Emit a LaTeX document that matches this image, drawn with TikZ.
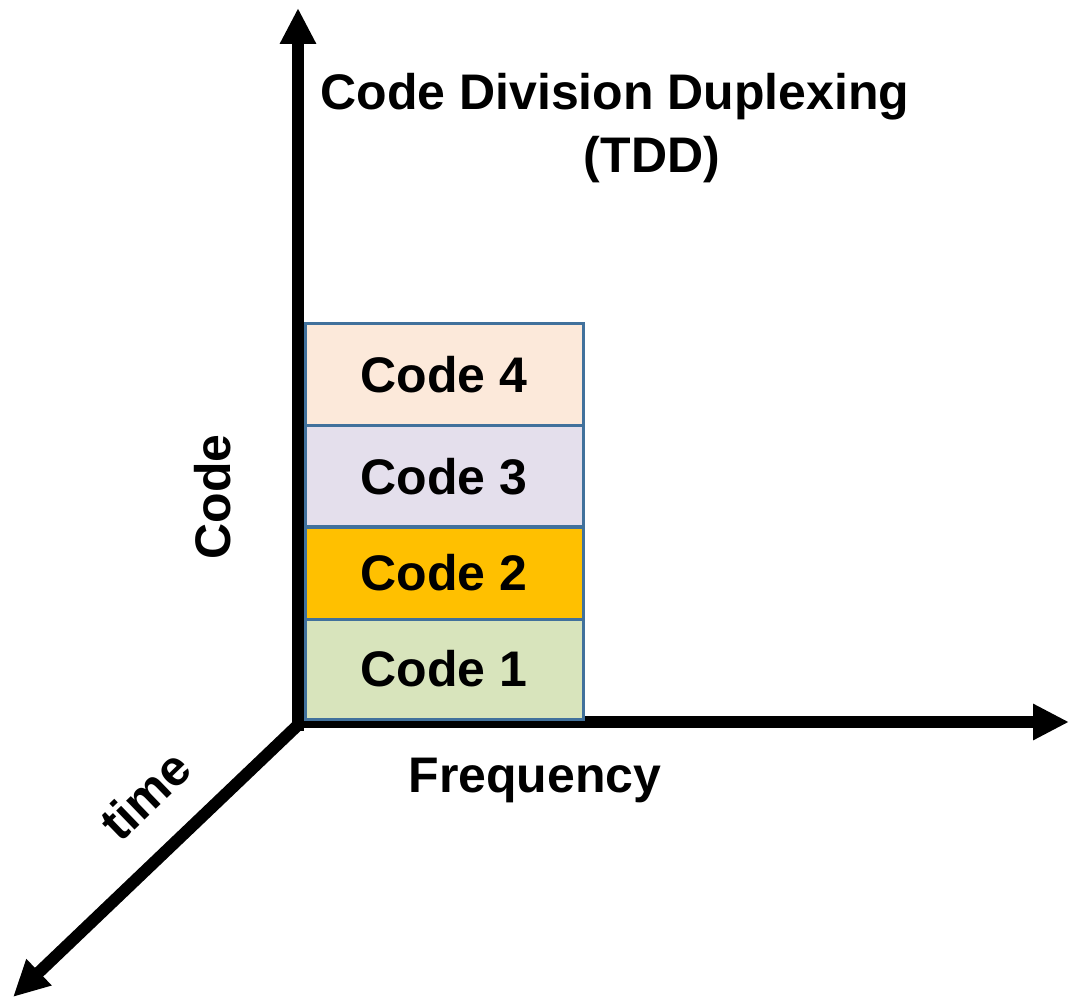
\documentclass[tikz,border=0pt]{standalone}
\usepackage{fontspec}
\setmainfont{Liberation Sans}
\usepackage{xcolor}
\usetikzlibrary{arrows.meta}
\usetikzlibrary{positioning}
\definecolor{boxline}{HTML}{41719C}
\definecolor{fillfour}{HTML}{FCE9DA}
\definecolor{fillthree}{HTML}{E4DFEC}
\definecolor{filltwo}{HTML}{FFC000}
\definecolor{fillone}{HTML}{D8E4BC}
\tikzset{
    big_text/.style = {font=\fontsize{25}{30}\selectfont\bfseries},
    axis_line/.style = {line width=6pt, -{Triangle[length=18pt, width=17pt]}},
    code_box/.style = {big_text, rectangle, draw=boxline, line width=1.5pt, minimum width=139pt, inner sep=0pt, outer sep=0pt},
    axis_label/.style = {big_text, inner sep=0pt, align=center}
}
\begin{document}
\begin{tikzpicture}
            [x=0.5pt, y=-0.5pt]

            \useasboundingbox (0,0) rectangle (1070,999);

            % axes
            \coordinate (origin) at (298,725);
            \coordinate (code_tip) at (298,8);
            \coordinate (freq_tip) at (1069,722);
            \coordinate (time_tip) at (13,997);
            \draw [axis_line] ([yshift=-3pt]origin) -- (code_tip);
            \draw [axis_line] ([xshift=-3pt]origin |- freq_tip) -- (freq_tip);
            \draw [axis_line] (origin) -- (time_tip);

            % stacked codes
            \node [code_box, fill=fillone, minimum height=50pt, anchor=south west] (code_one) at (305,719) {Code 1};
            \node [code_box, fill=filltwo, minimum height=46pt, above=0pt of code_one] (code_two) {Code 2};
            \node [code_box, fill=fillthree, minimum height=50.5pt, above=0pt of code_two] (code_three) {Code 3};
            \node [code_box, fill=fillfour, minimum height=51pt, above=0pt of code_three] (code_four) {Code 4};

            % labels
            \node [axis_label, rotate=90] (code_lbl) at (213,497) {Code};
            \node [axis_label] (freq_lbl) at (535,780) {Frequency};
            \node [axis_label, rotate=44] (time_lbl) at (145,795) {time};
            \node [axis_label] (title) at (615,97) {Code Division Duplexing};
            \node [axis_label] (title_tdd) at (652,160) {(TDD)};
        \end{tikzpicture}
\end{document}
